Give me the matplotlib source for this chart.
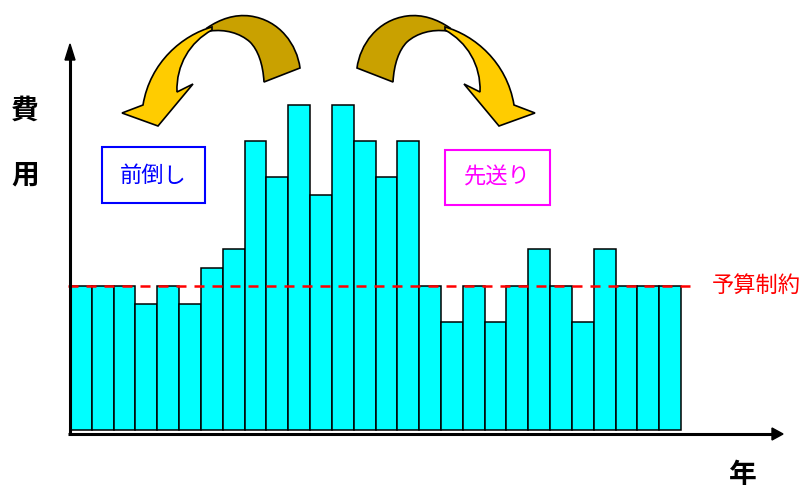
import matplotlib
matplotlib.use('Agg')
import matplotlib.pyplot as plt
from matplotlib.path import Path
from matplotlib.patches import PathPatch, Rectangle, Polygon

plt.rcParams['font.family'] = ['Noto Sans CJK JP', 'DejaVu Sans']

# 年ごとの費用（目盛り単位）
years = list(range(28))
costs = [8, 8, 8, 7, 8, 7, 9, 10, 16, 14, 18, 13, 18, 16, 14, 16,
         8, 6, 8, 6, 8, 10, 8, 6, 10, 8, 8, 8]
budget = 8

fig = plt.figure(figsize=(8.08, 4.88), dpi=100)

# データ用の軸
ax = fig.add_axes([0, 0, 1, 1])
ax.set_xlim(-3.708, 33.32)
ax.set_ylim(-3.213, 23.82)
ax.axis('off')

ax.bar(years, costs, width=1.0, color='#00FFFF', edgecolor='black',
       linewidth=1.1, zorder=2)
ax.plot([-0.6, 28.3], [budget, budget], color='red', linewidth=1.8,
        dashes=(4, 3.2), zorder=3)
ax.text(28.9, budget, '予算制約', color='red', fontsize=16,
        va='center', ha='left')

# 飾り用の軸（ピクセル座標）
ov = fig.add_axes([0, 0, 1, 1])
ov.set_xlim(0, 808)
ov.set_ylim(488, 0)
ov.axis('off')
ov.patch.set_alpha(0)

# 座標軸の矢印
ov.plot([70, 70], [434, 58], color='black', lw=2.2, solid_capstyle='butt')
ov.add_patch(Polygon([(65, 60), (75, 60), (70, 44)], closed=True,
                     color='black'))
ov.plot([68, 774], [434, 434], color='black', lw=2.2, solid_capstyle='butt')
ov.add_patch(Polygon([(772, 428), (772, 440), (783, 434)], closed=True,
                     color='black'))

ov.text(25, 111, '費', fontsize=20, fontweight='bold', ha='center', va='center')
ov.text(25, 176, '用', fontsize=20, fontweight='bold', ha='center', va='center')
ov.text(743, 475, '年', fontsize=20, fontweight='bold', ha='center', va='center')

# 前倒し / 先送り の枠
ov.add_patch(Rectangle((102, 147), 103, 56, fill=False, edgecolor='#0000FF', lw=1.5))
ov.text(153.5, 175, '前倒し', color='#0000FF', fontsize=16, ha='center', va='center')
ov.add_patch(Rectangle((445, 150), 105, 55, fill=False, edgecolor='#FF00FF', lw=1.5))
ov.text(497.5, 177.5, '先送り', color='#FF00FF', fontsize=16, ha='center', va='center')

# 曲がった矢印
M, C, L, Z = Path.MOVETO, Path.CURVE4, Path.LINETO, Path.CLOSEPOLY
back = [((300, 68), M),
        ((297, 45), C), ((280, 20), C), ((250, 16), C),
        ((235, 14), C), ((220, 19), C), ((207, 28), C),
        ((210, 31), L),
        ((225, 29), C), ((240, 33), C), ((250, 42), C),
        ((258, 50), C), ((263, 64), C), ((264, 82), C),
        ((300, 68), L), ((300, 68), Z)]
front = [((212, 27), M),
         ((183, 35), C), ((150, 62), C), ((143, 105), C),
         ((122, 113), L), ((158, 126), L), ((193, 84), L), ((177, 92), L),
         ((176, 65), C), ((190, 42), C), ((212, 30), C),
         ((212, 27), L), ((212, 27), Z)]


def arrow_path(spec, mirror=False):
    verts = [((657 - x) if mirror else x, y) for (x, y), _ in spec]
    codes = [c for _, c in spec]
    return Path(verts, codes)


for mirror in (False, True):
    ov.add_patch(PathPatch(arrow_path(back, mirror), facecolor='#C9A100',
                           edgecolor='black', lw=1.2, zorder=4))
    ov.add_patch(PathPatch(arrow_path(front, mirror), facecolor='#FFCC00',
                           edgecolor='black', lw=1.2, zorder=5))

fig.savefig('out.png', dpi=100)
